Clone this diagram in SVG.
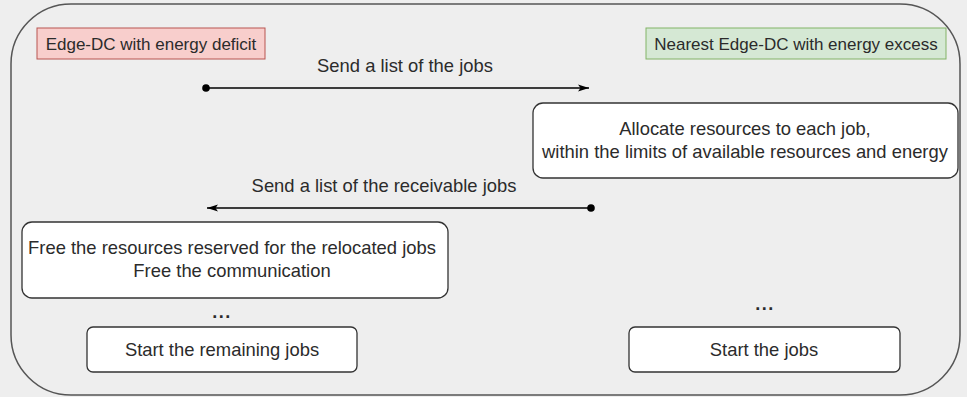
<svg xmlns="http://www.w3.org/2000/svg" width="967" height="397" viewBox="0 0 967 397">
<defs>
<style>
text{font-family:"Liberation Sans",Arial,sans-serif;fill:#2b2b2b;text-anchor:middle}
.b{font-size:18.4px}
.h{font-size:17px}
.d{font-size:18px;font-weight:bold;letter-spacing:1.5px}
.box{fill:#ffffff;stroke:#333333;stroke-width:1.3}
.conn{stroke:#000;stroke-width:1.5;fill:none}
</style>
<marker id="arr" markerWidth="12" markerHeight="10" refX="11" refY="4" orient="auto" markerUnits="userSpaceOnUse">
<path d="M0,0.5 L11,4 L0,7.5 L2.5,4 Z" fill="#000"/>
</marker>
<marker id="dot" markerWidth="10" markerHeight="10" refX="5" refY="5" orient="auto" markerUnits="userSpaceOnUse">
<circle cx="5" cy="5" r="3.8" fill="#000"/>
</marker>
</defs>
<rect x="0" y="0" width="967" height="397" fill="#eeeeee"/>
<g id="frame">
<rect x="11" y="4" width="949" height="391" rx="60" ry="60" fill="#eeeeee" stroke="#555555" stroke-width="1.5"/>
</g>
<g id="deficit">
<rect x="37" y="28" width="228" height="31" fill="#f8cecc" stroke="#b85450" stroke-width="1"/>
<text class="h" x="151" y="50">Edge-DC with energy deficit</text>
</g>
<g id="excess">
<rect x="646" y="28" width="300" height="31" fill="#d5e8d4" stroke="#82b366" stroke-width="1"/>
<text class="h" x="796" y="50">Nearest Edge-DC with energy excess</text>
</g>
<g id="allocate">
<rect class="box" x="533" y="103" width="425" height="75" rx="10" ry="10"/>
<text class="b" x="745" y="135">Allocate resources to each job,</text>
<text class="b" x="745" y="158">within the limits of available resources and energy</text>
</g>
<g id="free">
<rect class="box" x="22" y="222" width="426" height="76" rx="10" ry="10"/>
<text class="b" x="232" y="254">Free the resources reserved for the relocated jobs</text>
<text class="b" x="232" y="277">Free the communication</text>
</g>
<g id="dots-left">
<text class="d" x="222" y="318">...</text>
</g>
<g id="remaining">
<rect class="box" x="87" y="327" width="270" height="45" rx="6" ry="6"/>
<text class="b" x="222" y="356">Start the remaining jobs</text>
</g>
<g id="dots-right">
<text class="d" x="765" y="310">...</text>
</g>
<g id="startjobs">
<rect class="box" x="629" y="327" width="271" height="45" rx="6" ry="6"/>
<text class="b" x="764" y="356">Start the jobs</text>
</g>
<g id="connectors">
<line class="conn" x1="206" y1="88" x2="589" y2="88" marker-start="url(#dot)" marker-end="url(#arr)"/>
<text class="b" x="405" y="72">Send a list of the jobs</text>
<line class="conn" x1="591" y1="208" x2="207" y2="208" marker-start="url(#dot)" marker-end="url(#arr)"/>
<text class="b" x="384" y="192">Send a list of the receivable jobs</text>
</g>
</svg>
